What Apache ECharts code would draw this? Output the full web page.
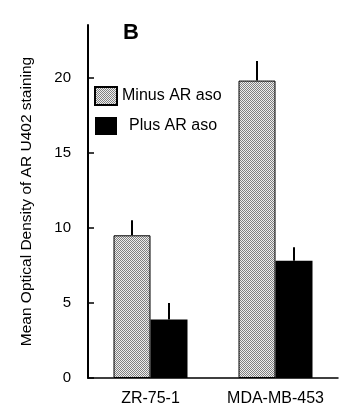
<!DOCTYPE html>
<html>
<head>
<meta charset="utf-8">
<script src="https://cdn.jsdelivr.net/npm/echarts@6/dist/echarts.min.js"></script>
<style>html,body{margin:0;padding:0;background:#fff}#c{width:350px;height:416px}</style>
</head>
<body>
<div id="c"></div>
<script>
var categories = ['ZR-75-1', 'MDA-MB-453'];
var seriesNames = ['Minus AR aso', 'Plus AR aso'];
var minusValues = [9.5, 19.8];
var minusErrors = [1.0, 1.3];
var plusValues = [3.9, 7.8];
var plusErrors = [1.1, 0.9];
var yMin = 0, yMax = 23.5, yInterval = 5;

var FONT = '"Liberation Sans", Arial, sans-serif';
var BAR_W = 37;

// dotted gray fill
var pc = document.createElement('canvas');
pc.width = 2; pc.height = 2;
var px = pc.getContext('2d');
px.fillStyle = '#eeeeee'; px.fillRect(0, 0, 2, 2);
px.fillStyle = '#808080'; px.fillRect(0, 0, 1, 1); px.fillRect(1, 1, 1, 1);
var dotted = { image: pc, repeat: 'repeat' };

function errSeries(vals, errs, offset) {
  return {
    type: 'custom',
    silent: true,
    z: 5,
    data: vals.map(function (v, i) { return [i, v, v + errs[i]]; }),
    renderItem: function (params, api) {
      var p0 = api.coord([api.value(0), api.value(1)]);
      var p1 = api.coord([api.value(0), api.value(2)]);
      var x = Math.round(p0[0] + offset);
      return {
        type: 'line',
        shape: { x1: x, y1: p0[1], x2: x, y2: p1[1] },
        style: { stroke: '#000', lineWidth: 2 }
      };
    }
  };
}

var chart = echarts.init(document.getElementById('c'), null, { renderer: 'canvas' });
chart.setOption({
  animation: false,
  backgroundColor: '#fff',
  grid: { left: 88, right: 12, top: 25, bottom: 38 },
  title: {
    text: 'B', left: 118, top: 17,
    textStyle: { fontFamily: FONT, fontWeight: 'bold', fontSize: 22, color: '#000' }
  },
  legend: {
    orient: 'vertical', left: 89, top: 81,
    itemWidth: 22, itemHeight: 18, itemGap: 11,
    icon: 'rect',
    textStyle: { fontFamily: FONT, fontSize: 16, color: '#000' },
    data: [
      { name: seriesNames[0] },
      { name: seriesNames[1], textStyle: { padding: [0, 0, 0, 7] } }
    ]
  },
  xAxis: {
    type: 'category',
    data: categories,
    axisLine: { lineStyle: { color: '#000', width: 1.5 } },
    axisTick: { show: false },
    axisLabel: { color: '#000', fontFamily: FONT, fontSize: 16, margin: 13, interval: 0 }
  },
  yAxis: {
    type: 'value',
    min: yMin, max: yMax, interval: yInterval,
    name: 'Mean Optical Density of AR U402 staining',
    nameLocation: 'middle', nameRotate: 90, nameGap: 53,
    nameTextStyle: { color: '#000', fontFamily: FONT, fontSize: 15.5 },
    axisLine: { show: true, lineStyle: { color: '#000', width: 2 } },
    axisTick: { show: true, inside: true, length: 6, lineStyle: { color: '#000', width: 1.5 } },
    splitLine: { show: false },
    axisLabel: {
      color: '#000', fontFamily: FONT, fontSize: 15, margin: 17,
      showMaxLabel: false
    }
  },
  series: [
    {
      name: seriesNames[0], type: 'bar', data: minusValues,
      barWidth: BAR_W, barGap: '0%',
      itemStyle: { color: dotted, borderColor: '#000', borderWidth: 1 }
    },
    {
      name: seriesNames[1], type: 'bar', data: plusValues,
      barWidth: BAR_W, barGap: '0%',
      itemStyle: { color: '#000' }
    },
    errSeries(minusValues, minusErrors, -BAR_W / 2),
    errSeries(plusValues, plusErrors, BAR_W / 2)
  ]
});
</script>
</body>
</html>
